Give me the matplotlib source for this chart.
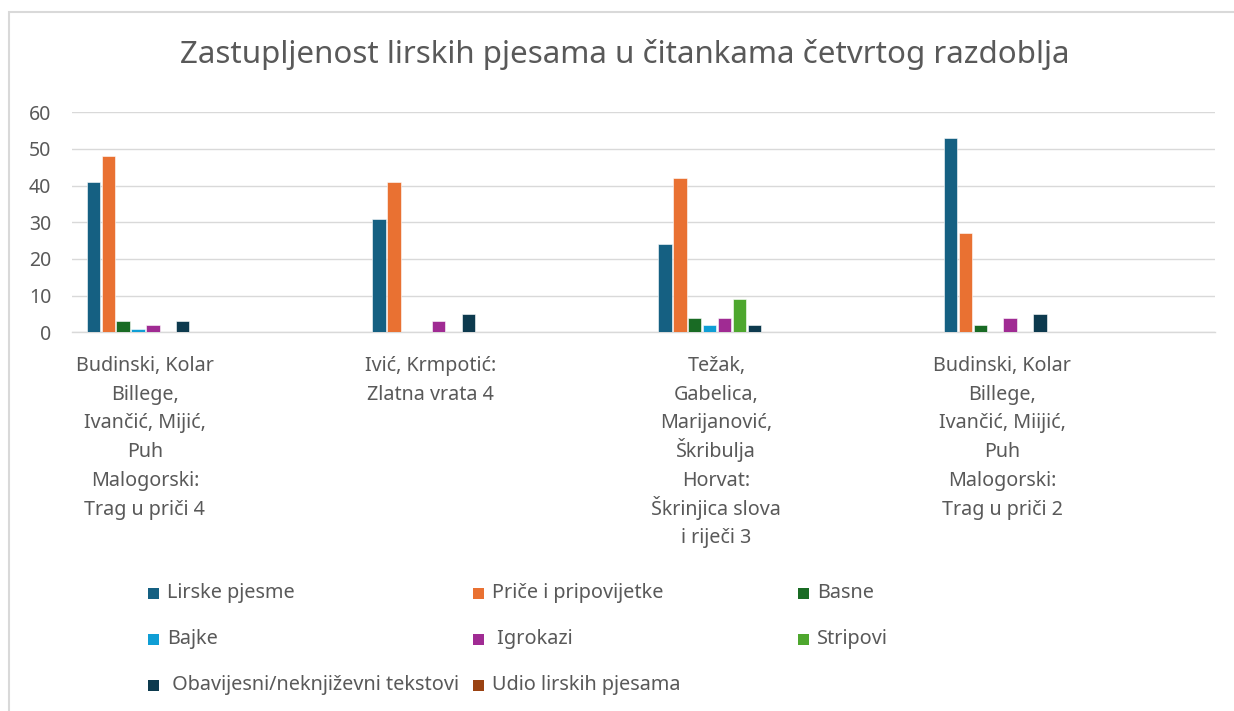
import matplotlib
matplotlib.use("Agg")
import matplotlib.pyplot as plt
import matplotlib.transforms as mtransforms
from matplotlib.patches import Rectangle

# ---- data ----
categories = [
    "Budinski, Kolar\nBillege,\nIvančić, Mijić,\nPuh\nMalogorski:\nTrag u priči 4",
    "Ivić, Krmpotić:\nZlatna vrata 4",
    "Težak,\nGabelica,\nMarijanović,\nŠkribulja\nHorvat:\nŠkrinjica slova\ni riječi 3",
    "Budinski, Kolar\nBillege,\nIvančić, Miijić,\nPuh\nMalogorski:\nTrag u priči 2",
]
series_names = ["Lirske pjesme", "Priče i pripovijetke", "Basne", "Bajke",
                " Igrokazi", "Stripovi", " Obavijesni/neknjiževni tekstovi",
                "Udio lirskih pjesama"]
lirske = [41, 31, 24, 53]
price = [48, 41, 42, 27]
basne = [3, 0, 4, 2]
bajke = [1, 0, 2, 0]
igrokazi = [2, 3, 4, 4]
stripovi = [0, 0, 9, 0]
obavijesni = [3, 5, 2, 5]
udio = [0, 0, 0, 0]
values = [lirske, price, basne, bajke, igrokazi, stripovi, obavijesni, udio]
colors = ["#156082", "#E97132", "#196B24", "#0F9ED5", "#A02B93", "#4EA72E",
          "#0D3A4E", "#9A4212"]
y_ticks = [0, 10, 20, 30, 40, 50, 60]

FONT = ["Noto Sans", "DejaVu Sans"]
TXT = "#595959"
plt.rcParams["font.family"] = FONT

W, H = 1234, 711
DPI = 100
fig = plt.figure(figsize=(W / DPI, H / DPI), dpi=DPI)
fig.patch.set_facecolor("white")

# chart border (only top/left visible in reference)
fig.patches.append(Rectangle((9 / W, -0.1), 1.2, 1 - 12 / H + 0.1,
                             transform=fig.transFigure, fill=False,
                             edgecolor="#D9D9D9", linewidth=1.5))

ax = fig.add_axes([72 / W, (H - 332.3) / H, (1215 - 72) / W, 220 / H])
n = len(categories)
ax.set_xlim(-0.5, n - 0.5)
ax.set_ylim(0, 60)

start = 0.0514
stride = 0.0521
bw = 0.047
for j, (vals, col) in enumerate(zip(values, colors)):
    xs = [i - 0.5 + start + j * stride for i in range(n)]
    ax.bar(xs, vals, width=bw, align="edge", color=col,
           edgecolor="white", linewidth=0.4, zorder=3)

ax.set_yticks(y_ticks)
ax.set_yticklabels([str(t) for t in y_ticks])
ax.grid(axis="y", color="#D9D9D9", linewidth=1.0, zorder=0)
for s in ["top", "right", "left"]:
    ax.spines[s].set_visible(False)
ax.spines["bottom"].set_color("#D9D9D9")
ax.spines["bottom"].set_linewidth(1.0)
ax.tick_params(axis="y", length=0, pad=15, labelsize=14, labelcolor=TXT)

# category labels: one text per line so that accented capitals do not
# stretch the line spacing
tick_pos = [i - 0.245 for i in range(n)]
ax.set_xticks(tick_pos)
ax.set_xticklabels([""] * n)
ax.tick_params(axis="x", length=0)
base = mtransforms.blended_transform_factory(ax.transData, ax.transAxes)
first_px, step_px = 38.7, 28.7
for xp, label in zip(tick_pos, categories):
    for k, line in enumerate(label.split("\n")):
        off = mtransforms.ScaledTranslation(0, -(first_px + k * step_px) / DPI,
                                            fig.dpi_scale_trans)
        ax.text(xp, 0, line, transform=base + off, ha="center",
                va="baseline", fontsize=14.2, color=TXT, clip_on=False)

fig.text(625 / W, 1 - 55 / H,
         "Zastupljenost lirskih pjesama u čitankama četvrtog razdoblja",
         ha="center", va="center", fontsize=22.5, color=TXT)

# legend, laid out in a 3-column grid as in the reference
col_x = [148, 473, 798]
row_y = [593, 639, 685]
for k, (name, col) in enumerate(zip(series_names, colors)):
    r, c = divmod(k, 3)
    x0 = col_x[c]
    y0 = row_y[r]
    fig.patches.append(Rectangle((x0 / W, (H - y0 - 5.5) / H), 11 / W, 11 / H,
                                 transform=fig.transFigure, facecolor=col,
                                 edgecolor="none"))
    fig.text((x0 + 19) / W, (H - y0) / H, name, ha="left", va="center",
             fontsize=14.3, color=TXT)

fig.savefig("out.png", dpi=DPI)
